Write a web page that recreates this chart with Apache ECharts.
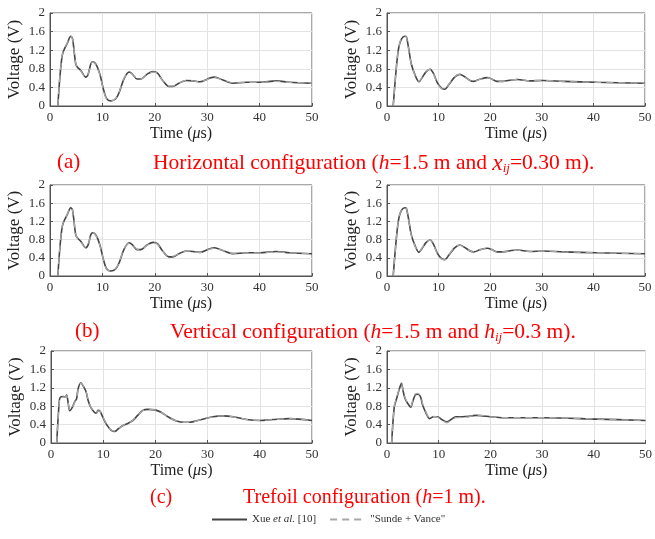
<!DOCTYPE html>
<html>
<head>
<meta charset="utf-8">
<script src="https://cdn.jsdelivr.net/npm/echarts@6/dist/echarts.min.js"></script>
<style>html,body{margin:0;padding:0;background:#fff}#c{width:655px;height:539px}</style>
</head>
<body>
<div id="c"></div>
<script>
// ---- data: [time (us), voltage (V)] ----
const tlXue = [[1.5,0],[1.8,0.5],[2.2,0.98],[2.5,1.16],[3.3,1.35],[3.95,1.5],[4.3,1.45],[4.9,0.91],[5.2,0.84],[5.9,0.76],[6.8,0.62],[7.3,0.69],[7.8,0.91],[8.2,0.95],[8.9,0.87],[9.6,0.65],[10.2,0.36],[10.8,0.16],[11.6,0.11],[12.5,0.15],[13.2,0.29],[14.1,0.58],[15.1,0.73],[15.7,0.69],[16.6,0.58],[17.3,0.58],[18.6,0.69],[19.7,0.74],[20.5,0.71],[21.5,0.55],[22.7,0.42],[23.4,0.42],[24.6,0.49],[26,0.55],[27.3,0.54],[28.6,0.52],[30.5,0.6],[31.4,0.62],[33,0.56],[35,0.49],[37.5,0.51],[40,0.51],[43.2,0.54],[45.7,0.51],[50,0.49]];
const tlSunde = [[1.5,0],[1.8,0.52],[2.2,0.99],[2.5,1.17],[3.3,1.36],[3.95,1.5],[4.3,1.44],[4.9,0.92],[5.2,0.84],[5.9,0.75],[6.8,0.62],[7.3,0.7],[7.8,0.9],[8.2,0.95],[8.9,0.86],[9.6,0.64],[10.2,0.35],[10.8,0.15],[11.6,0.11],[12.5,0.16],[13.2,0.3],[14.1,0.59],[15.1,0.72],[15.7,0.69],[16.6,0.59],[17.3,0.58],[18.6,0.68],[19.7,0.73],[20.5,0.7],[21.5,0.55],[22.7,0.43],[23.4,0.43],[24.6,0.49],[26,0.55],[27.3,0.54],[28.6,0.52],[30.5,0.59],[31.4,0.61],[33,0.56],[35,0.5],[37.5,0.51],[40,0.51],[43.2,0.53],[45.7,0.51],[50,0.49]];
const trXue = [[1.2,0],[1.85,0.87],[2.3,1.27],[2.8,1.44],[3.45,1.5],[3.75,1.49],[4.2,1.24],[4.7,0.91],[5.5,0.65],[6.2,0.52],[6.75,0.6],[7.6,0.74],[8.35,0.79],[9.0,0.7],[9.8,0.49],[10.6,0.38],[11.2,0.36],[12.0,0.46],[13.1,0.62],[14.1,0.68],[14.9,0.64],[16.1,0.55],[16.8,0.53],[18.1,0.58],[19.5,0.61],[20.3,0.58],[21.3,0.53],[22.5,0.53],[24.1,0.56],[25.3,0.57],[27.7,0.54],[30.3,0.55],[34.2,0.53],[40.6,0.51],[50,0.49]];
const trSunde = [[1.2,0],[1.85,0.88],[2.3,1.28],[2.8,1.45],[3.45,1.51],[3.75,1.48],[4.2,1.22],[4.7,0.9],[5.5,0.64],[6.2,0.53],[6.75,0.61],[7.6,0.75],[8.35,0.79],[9.0,0.69],[9.8,0.48],[10.6,0.37],[11.2,0.36],[12.0,0.47],[13.1,0.63],[14.1,0.68],[14.9,0.63],[16.1,0.55],[16.8,0.53],[18.1,0.58],[19.5,0.61],[20.3,0.58],[21.3,0.53],[22.5,0.53],[24.1,0.56],[25.3,0.57],[27.7,0.54],[30.3,0.55],[34.2,0.53],[40.6,0.51],[50,0.49]];
const mlXue = [[1.5,0],[1.8,0.5],[2.2,0.98],[2.5,1.16],[3.3,1.35],[3.95,1.5],[4.3,1.45],[4.9,0.91],[5.2,0.84],[5.9,0.76],[6.8,0.62],[7.3,0.69],[7.8,0.91],[8.2,0.95],[8.9,0.87],[9.6,0.65],[10.2,0.36],[10.8,0.16],[11.6,0.11],[12.5,0.15],[13.2,0.29],[14.1,0.58],[15.1,0.73],[15.7,0.69],[16.6,0.58],[17.3,0.58],[18.6,0.69],[19.7,0.74],[20.5,0.71],[21.5,0.55],[22.7,0.42],[23.4,0.42],[24.6,0.49],[26,0.55],[27.3,0.54],[28.6,0.52],[30.5,0.6],[31.4,0.62],[33,0.56],[35,0.49],[37.5,0.51],[40,0.51],[43.2,0.54],[45.7,0.51],[50,0.49]];
const mlSunde = [[1.5,0],[1.8,0.52],[2.2,0.99],[2.5,1.17],[3.3,1.36],[3.95,1.5],[4.3,1.44],[4.9,0.92],[5.2,0.84],[5.9,0.75],[6.8,0.62],[7.3,0.7],[7.8,0.9],[8.2,0.95],[8.9,0.86],[9.6,0.64],[10.2,0.35],[10.8,0.15],[11.6,0.11],[12.5,0.16],[13.2,0.3],[14.1,0.59],[15.1,0.72],[15.7,0.69],[16.6,0.59],[17.3,0.58],[18.6,0.68],[19.7,0.73],[20.5,0.7],[21.5,0.55],[22.7,0.43],[23.4,0.43],[24.6,0.49],[26,0.55],[27.3,0.54],[28.6,0.52],[30.5,0.59],[31.4,0.61],[33,0.56],[35,0.5],[37.5,0.51],[40,0.51],[43.2,0.53],[45.7,0.51],[50,0.49]];
const mrXue = [[1.2,0],[1.85,0.87],[2.3,1.27],[2.8,1.44],[3.45,1.5],[3.75,1.49],[4.2,1.24],[4.7,0.91],[5.5,0.65],[6.2,0.52],[6.75,0.6],[7.6,0.74],[8.35,0.79],[9.0,0.7],[9.8,0.49],[10.6,0.38],[11.2,0.36],[12.0,0.46],[13.1,0.62],[14.1,0.68],[14.9,0.64],[16.1,0.55],[16.8,0.53],[18.1,0.58],[19.5,0.61],[20.3,0.58],[21.3,0.53],[22.5,0.53],[24.1,0.56],[25.3,0.57],[27.7,0.54],[30.3,0.55],[34.2,0.53],[40.6,0.51],[50,0.49]];
const mrSunde = [[1.2,0],[1.85,0.88],[2.3,1.28],[2.8,1.45],[3.45,1.51],[3.75,1.48],[4.2,1.22],[4.7,0.9],[5.5,0.64],[6.2,0.53],[6.75,0.61],[7.6,0.75],[8.35,0.79],[9.0,0.69],[9.8,0.48],[10.6,0.37],[11.2,0.36],[12.0,0.47],[13.1,0.63],[14.1,0.68],[14.9,0.63],[16.1,0.55],[16.8,0.53],[18.1,0.58],[19.5,0.61],[20.3,0.58],[21.3,0.53],[22.5,0.53],[24.1,0.56],[25.3,0.57],[27.7,0.54],[30.3,0.55],[34.2,0.53],[40.6,0.51],[50,0.49]];
const blXue = [[1.1,0],[1.6,0.93],[1.85,1.0],[2.35,1.01],[2.7,1.0],[3.0,1.04],[3.3,0.86],[3.6,0.7],[4.1,0.78],[4.6,0.91],[4.9,0.96],[5.2,1.18],[5.7,1.31],[6.2,1.23],[6.7,1.12],[7.1,0.93],[7.6,0.78],[8.3,0.67],[8.7,0.65],[9.0,0.71],[9.4,0.69],[9.9,0.57],[10.6,0.41],[11.5,0.28],[12.2,0.25],[12.9,0.31],[13.8,0.38],[14.8,0.43],[15.7,0.49],[16.6,0.6],[17.6,0.71],[18.6,0.73],[19.9,0.72],[21.1,0.67],[22.4,0.57],[24,0.48],[25.6,0.45],[26.5,0.45],[28.5,0.5],[31,0.57],[33,0.59],[34.9,0.57],[37.5,0.51],[40,0.49],[42.5,0.51],[45.7,0.53],[50,0.49]];
const blSunde = [[1.1,0],[1.6,0.92],[1.85,0.99],[2.35,1.0],[2.7,1.0],[3.0,1.03],[3.3,0.87],[3.6,0.71],[4.1,0.78],[4.6,0.9],[4.9,0.97],[5.2,1.17],[5.7,1.3],[6.2,1.24],[6.7,1.13],[7.1,0.94],[7.6,0.79],[8.3,0.67],[8.7,0.65],[9.0,0.7],[9.4,0.69],[9.9,0.58],[10.6,0.42],[11.5,0.29],[12.2,0.26],[12.9,0.31],[13.8,0.38],[14.8,0.43],[15.7,0.5],[16.6,0.6],[17.6,0.7],[18.6,0.73],[19.9,0.72],[21.1,0.67],[22.4,0.57],[24,0.48],[25.6,0.45],[26.5,0.45],[28.5,0.5],[31,0.57],[33,0.59],[34.9,0.57],[37.5,0.51],[40,0.49],[42.5,0.51],[45.7,0.53],[50,0.49]];
const brXue = [[0.9,0],[1.4,0.78],[1.85,0.96],[2.3,1.14],[2.8,1.3],[3.1,1.14],[3.45,0.98],[3.95,0.87],[4.6,0.78],[5.0,0.91],[5.5,1.05],[6.0,1.06],[6.5,1.0],[6.9,0.82],[7.6,0.64],[8.2,0.53],[9.0,0.57],[9.8,0.57],[10.6,0.51],[11.6,0.46],[12.4,0.51],[13.3,0.57],[14.6,0.57],[15.9,0.58],[17.1,0.6],[18.4,0.59],[20,0.57],[22.5,0.55],[26,0.55],[30.2,0.55],[40.5,0.52],[50,0.49]];
const brSunde = [[0.9,0],[1.4,0.8],[1.85,0.98],[2.3,1.15],[2.8,1.28],[3.1,1.15],[3.45,1.0],[3.95,0.88],[4.6,0.8],[5.0,0.93],[5.5,1.07],[6.0,1.08],[6.5,1.02],[6.9,0.85],[7.6,0.66],[8.2,0.55],[9.0,0.58],[9.8,0.56],[10.6,0.5],[11.6,0.44],[12.4,0.49],[13.3,0.55],[14.6,0.56],[15.9,0.57],[17.1,0.61],[18.4,0.6],[20,0.57],[22.5,0.55],[26,0.55],[30.2,0.55],[40.5,0.52],[50,0.49]];

const xTicks = {min: 0, max: 50, interval: 10};
const yTicks = {min: 0, max: 2, interval: 0.4};
const nameXue = 'Xue et al. [10]';
const nameSunde = '"Sunde + Vance"';

const panels = [
  {xue: tlXue, sunde: tlSunde},
  {xue: trXue, sunde: trSunde},
  {xue: mlXue, sunde: mlSunde},
  {xue: mrXue, sunde: mrSunde},
  {xue: blXue, sunde: blSunde},
  {xue: brXue, sunde: brSunde}
];

// ---- layout ----
const gridPos = [
  {left: 50, top: 13, width: 262, height: 93},
  {left: 387, top: 13, width: 258, height: 93},
  {left: 50, top: 185, width: 262, height: 91},
  {left: 387, top: 185, width: 258, height: 91},
  {left: 51, top: 351, width: 261, height: 92},
  {left: 387, top: 351, width: 259, height: 92}
];
const FONT = '"Liberation Serif", "DejaVu Serif", serif';
const axisColor = '#333';

const grids = gridPos.map(g => Object.assign({show: true, borderColor: '#555', borderWidth: 1, backgroundColor: '#fff'}, g));
const xAxes = gridPos.map((g, i) => ({
  type: 'value', gridIndex: i, min: xTicks.min, max: xTicks.max, interval: xTicks.interval,
  name: 'Time ({i|\u03bc}s)', nameLocation: 'middle', nameGap: 20,
  nameTextStyle: {fontFamily: FONT, fontSize: 16, color: '#222', rich: {i: {fontFamily: FONT, fontSize: 16, fontStyle: 'italic', color: '#222'}}},
  axisLine: {show: true, lineStyle: {color: '#555'}},
  axisTick: {show: true, inside: true, length: 3, lineStyle: {color: '#555'}},
  axisLabel: {fontFamily: FONT, fontSize: 13, color: axisColor, margin: 5},
  splitLine: {show: true, lineStyle: {color: '#e3e3e3', width: 1}}
}));
const yAxes = gridPos.map((g, i) => ({
  type: 'value', gridIndex: i, min: yTicks.min, max: yTicks.max, interval: yTicks.interval,
  name: 'Voltage (V)', nameLocation: 'middle', nameGap: 27,
  nameTextStyle: {fontFamily: FONT, fontSize: 17, color: '#222'},
  axisLine: {show: true, lineStyle: {color: '#555'}},
  axisTick: {show: true, inside: true, length: 3, lineStyle: {color: '#555'}},
  axisLabel: {fontFamily: FONT, fontSize: 13, color: axisColor, margin: 5},
  splitLine: {show: true, lineStyle: {color: '#e3e3e3', width: 1}}
}));

const series = [];
panels.forEach((p, i) => {
  series.push({name: nameXue, type: 'line', xAxisIndex: i, yAxisIndex: i, data: p.xue,
    smooth: 0.3, showSymbol: false, symbol: 'none', lineStyle: {color: '#444', width: 1.6}, itemStyle: {color: '#444'}, z: 2});
  series.push({name: nameSunde, type: 'line', xAxisIndex: i, yAxisIndex: i, data: p.sunde,
    smooth: 0.3, showSymbol: false, symbol: 'none', lineStyle: {color: '#a8a8a8', width: 1.3, type: [7, 5]}, itemStyle: {color: '#a8a8a8'}, z: 3});
});

const red = '#ff0000';
function capStyle(fs) {
  return {fontFamily: FONT, fontSize: fs, fontWeight: 'normal', color: red,
    rich: {
      i: {fontFamily: FONT, fontSize: fs, fontStyle: 'italic', color: red},
      x: {fontFamily: FONT, fontSize: fs + 2, fontStyle: 'italic', color: red},
      s: {fontFamily: FONT, fontSize: Math.round(fs * 0.62), fontStyle: 'italic', color: red, padding: [10, 0, 0, 0]}
    }
  };
}
const titles = [
  {text: '(a)', left: 57, top: 152, textStyle: capStyle(21)},
  {text: 'Horizontal configuration ({i|h}=1.5 m and {x|x}{s|ij}=0.30 m).', left: 153, top: 152, textStyle: capStyle(21.5)},
  {text: '(b)', left: 75, top: 321, textStyle: capStyle(21)},
  {text: 'Vertical configuration ({i|h}=1.5 m and {i|h}{s|ij}=0.3 m).', left: 170, top: 321, textStyle: capStyle(21.5)},
  {text: '(c)', left: 150, top: 488, textStyle: capStyle(20)},
  {text: 'Trefoil configuration ({i|h}=1 m).', left: 243, top: 488, textStyle: capStyle(20)}
].map(t => Object.assign({padding: 0}, t));

const chart = echarts.init(document.getElementById('c'), null, {renderer: 'canvas'});
chart.setOption({
  animation: false,
  backgroundColor: '#fff',
  title: titles,
  legend: {
    data: [nameXue, nameSunde], left: 211, top: 514, itemWidth: 35, itemHeight: 10, itemGap: 13,
    padding: 0, selectedMode: false,
    itemStyle: {opacity: 0},
    textStyle: {fontFamily: FONT, fontSize: 11, color: '#333', rich: {i: {fontFamily: FONT, fontSize: 11, fontStyle: 'italic', color: '#333'}}},
    formatter: n => n === nameXue ? 'Xue {i|et al.} [10]' : n
  },
  grid: grids,
  xAxis: xAxes,
  yAxis: yAxes,
  series: series
});
</script>
</body>
</html>
